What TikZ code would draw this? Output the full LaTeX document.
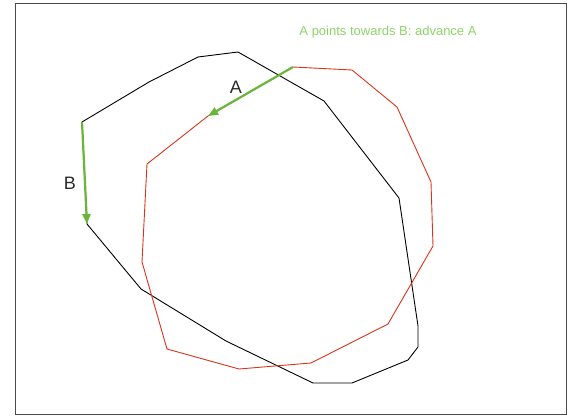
\documentclass[tikz,border=0pt]{standalone}
\usepackage{fontspec}
\setmainfont{Liberation Sans}
\usetikzlibrary{arrows.meta}
\definecolor{frame}{HTML}{4A4A4A}
\definecolor{polyred}{HTML}{D8341C}
\definecolor{arrowgreen}{HTML}{6AB43C}
\definecolor{textgreen}{HTML}{8DD46A}
\definecolor{labelgray}{HTML}{2A2A2A}
\tikzset{
  polyblack/.style={draw=black, line width=0.9pt, line join=miter},
  polyr/.style={draw=polyred, line width=0.9pt, line join=miter},
  advarrow/.style={draw=arrowgreen, line width=2.2pt, -{Triangle[length=10pt,width=8pt]}},
  lbl/.style={text=labelgray, font=\fontsize{18}{18}\selectfont, inner sep=0pt},
  caption/.style={text=textgreen, font=\fontsize{13}{13}\selectfont, inner sep=0pt}
}
\begin{document}
\begin{tikzpicture}[x=1pt,y=-1pt]
\useasboundingbox (0,0) rectangle (574,417);
\draw[frame, line width=1.3pt] (15.5,3.5) rectangle (566.5,414.5);
% black polygon
\coordinate (b1) at (82,122);
\coordinate (b2) at (149,82);
\coordinate (b3) at (198,57);
\coordinate (b4) at (238,52);
\coordinate (b5) at (324,101);
\coordinate (b6) at (399,198);
\coordinate (b7) at (418,326);
\coordinate (b8) at (418,347);
\coordinate (b9) at (408,360);
\coordinate (b10) at (352,383);
\coordinate (b11) at (313,383);
\coordinate (b12) at (226,341);
\coordinate (b13) at (141,289);
\coordinate (b14) at (87,224);
\draw[polyblack] (b1)--(b2)--(b3)--(b4)--(b5)--(b6)--(b7)--(b8)--(b9)--(b10)--(b11)--(b12)--(b13)--(b14)--cycle;
% red polygon
\coordinate (r1) at (293,67);
\coordinate (r2) at (352,70);
\coordinate (r3) at (397,107);
\coordinate (r4) at (431,182);
\coordinate (r5) at (433,246);
\coordinate (r6) at (388,324);
\coordinate (r7) at (311,363);
\coordinate (r8) at (239,369);
\coordinate (r9) at (167,349);
\coordinate (r10) at (142,262);
\coordinate (r11) at (147,164);
\coordinate (r12) at (208,116);
\draw[polyr] (r1)--(r2)--(r3)--(r4)--(r5)--(r6)--(r7)--(r8)--(r9)--(r10)--(r11)--(r12)--cycle;
% arrows
\draw[advarrow] (r1) -- (r12);
\draw[advarrow] (b1) -- (b14);
\node[lbl] (la) at (236,87) {A};
\node[lbl] (lb) at (70,183) {B};
\node[caption] (cap) at (388,32) {A points towards B: advance A};
\end{tikzpicture}
\end{document}
